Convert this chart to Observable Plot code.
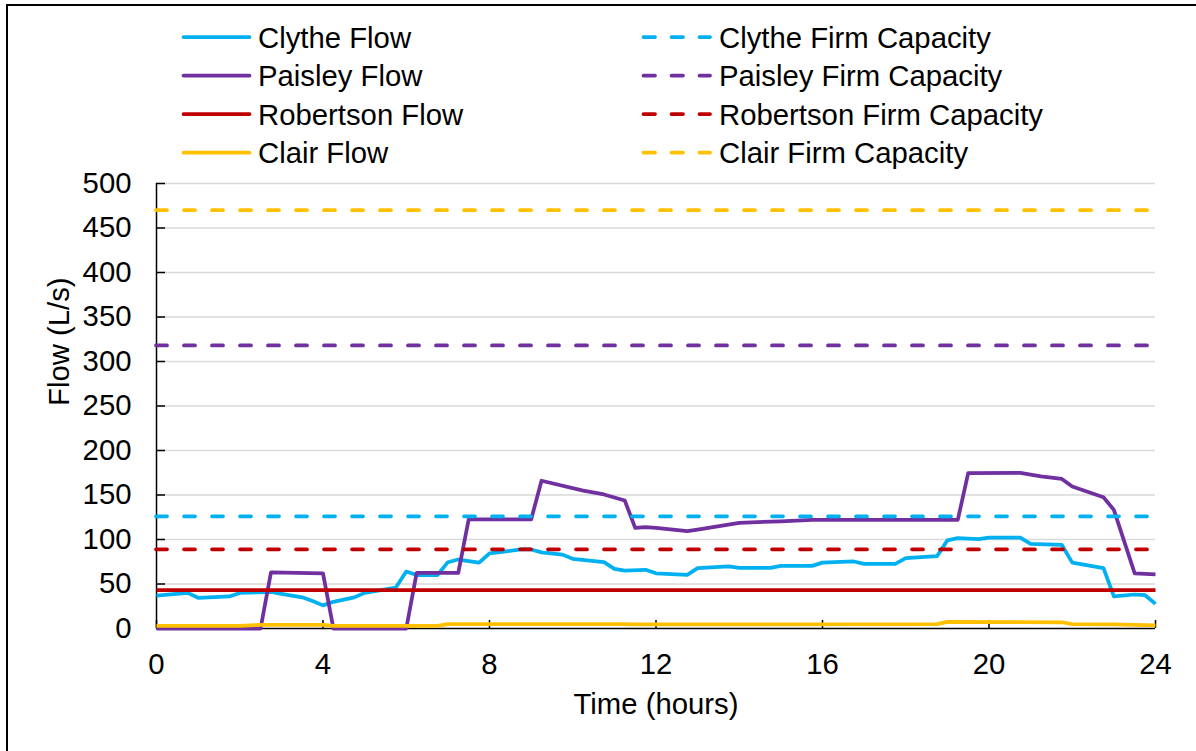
<!DOCTYPE html>
<html>
<head>
<meta charset="utf-8">
<script src="https://cdn.jsdelivr.net/npm/d3@7"></script>
<script src="https://cdn.jsdelivr.net/npm/@observablehq/plot@0.6"></script>
<style>
html, body { margin: 0; padding: 0; background: #fff; overflow: hidden; }
#wrap { position: relative; width: 1196px; height: 751px; overflow: hidden; font-family: "Liberation Sans", Arial, sans-serif; background: #fff; }
#chart, #legend { position: absolute; left: 0; top: 0; }
#frame { position: absolute; left: 6px; top: 4px; width: 1400px; height: 1000px; border-left: 2px solid #000; border-top: 2px solid #000; pointer-events: none; }
</style>
</head>
<body>
<div id="wrap">
  <div id="chart"></div>
  <svg id="legend" width="1196" height="180"></svg>
  <div id="frame"></div>
</div>
<script>
// ---------- data ----------
const seriesNames = ["Clythe", "Paisley", "Robertson", "Clair"];
const seriesColors = ["#00B0F0", "#7030A0", "#C00000", "#FFC000"];
const firmCapacity = [126, 318, 89, 470];

const clytheTime = [0, 0.75, 1, 1.75, 2, 2.75, 3, 3.5, 3.75, 4, 4.25, 4.75, 5, 5.75, 6, 6.25, 6.75, 7, 7.25, 7.75, 8, 8.25, 8.75, 9, 9.25, 9.75, 10, 10.75, 11, 11.25, 11.75, 12, 12.75, 13, 13.75, 14, 14.75, 15, 15.75, 16, 16.75, 17, 17.75, 18, 18.75, 19, 19.25, 19.75, 20, 20.75, 21, 21.75, 22, 22.75, 23, 23.5, 23.75, 24];
const clytheFlow = [37, 40, 34.5, 36, 40, 41, 39, 35, 31, 26, 30, 35, 40, 46, 64, 60, 60, 74.5, 77.5, 74, 84.5, 85.7, 88.8, 88.8, 85.5, 83, 78.3, 74.5, 67, 65, 66, 62, 60.3, 67.8, 69.7, 68.2, 68.2, 70.4, 70.4, 74, 75.3, 72.7, 72.7, 79, 81.2, 99, 101.5, 100.4, 102.2, 102.2, 95, 94, 74, 67.8, 36, 38.2, 37.4, 27.7];

const paisleyTime = [0, 2.5, 2.75, 4, 4.25, 6, 6.25, 7.25, 7.5, 9, 9.25, 10.25, 10.75, 11.25, 11.5, 11.75, 12, 12.75, 13, 14, 15, 15.75, 19.25, 19.5, 20.75, 21.25, 21.75, 22, 22.75, 23, 23.5, 24];
const paisleyFlow = [0, 0, 63, 62, 0, 0, 62.6, 62.6, 122.5, 122.5, 166, 155, 150.6, 143.8, 113, 113.8, 113, 109.3, 111, 118.7, 120.5, 122, 122, 174.5, 174.9, 171, 168, 159.5, 147.5, 133.3, 62, 60.7];

const robertsonTime = [0, 24];
const robertsonFlow = [43, 43];

const clairTime = [0, 2, 2.5, 4, 4.25, 6.75, 7, 11.25, 11.5, 18.75, 19, 21.75, 22, 23, 24];
const clairFlow = [3, 3, 4, 4, 3, 3, 5, 5, 4.5, 5, 7.5, 7, 5, 4.5, 3.5];

const xTicks = [0, 4, 8, 12, 16, 20, 24];
const yTicks = [0, 50, 100, 150, 200, 250, 300, 350, 400, 450, 500];
const xLabel = "Time (hours)";
const yLabel = "Flow (L/s)";

// ---------- build rows ----------
const toRows = (ts, vs, name) => ts.map((t, i) => ({time: t, flow: vs[i], name}));
const flowSeries = [
  toRows(clytheTime, clytheFlow, "Clythe"),
  toRows(paisleyTime, paisleyFlow, "Paisley"),
  toRows(robertsonTime, robertsonFlow, "Robertson"),
  toRows(clairTime, clairFlow, "Clair")
];

const FONT = "'Liberation Sans', Arial, sans-serif";
const FS = 29.3;
const LW = 3.75;
const DASH = "11,17";

const marks = [
  Plot.gridY(yTicks.filter(d => d > 0), {stroke: "#d9d9d9", strokeOpacity: 1, strokeWidth: 1.5}),
  Plot.ruleY([0], {stroke: "#000", strokeWidth: 1.5}),
  Plot.ruleX([0], {stroke: "#000", strokeWidth: 1.5}),
  Plot.axisY(yTicks, {tickSize: -9, tickFormat: () => "", label: null, strokeWidth: 1.5}),
  Plot.axisY(yTicks, {tickSize: 0, tickPadding: 25, label: null, fontSize: FS, fill: "#000"}),
  Plot.axisX(xTicks, {tickSize: -8, tickFormat: () => "", label: null, strokeWidth: 1.5}),
  Plot.axisX(xTicks, {tickSize: 0, tickPadding: 25, label: null, fontSize: FS, fill: "#000"})
];
flowSeries.forEach((rows, i) => {
  marks.push(Plot.line(rows, {x: "time", y: "flow", stroke: seriesColors[i], strokeWidth: LW, strokeLinejoin: "round", strokeLinecap: "butt"}));
});
firmCapacity.forEach((c, i) => {
  marks.push(Plot.ruleY([c], {stroke: seriesColors[i], strokeWidth: LW, strokeDasharray: DASH, strokeLinecap: "round"}));
});
marks.push(Plot.text([xLabel], {text: d => d, frameAnchor: "bottom", lineAnchor: "top", dy: 65, fontSize: FS, fill: "#000"}));
marks.push(Plot.text([yLabel], {text: d => d, frameAnchor: "left", lineAnchor: "bottom", rotate: -90, dx: -88, fontSize: FS, fill: "#000"}));

const chart = Plot.plot({
  width: 1196,
  height: 751,
  marginLeft: 156,
  marginRight: 41,
  marginTop: 183,
  marginBottom: 123,
  style: {fontFamily: FONT, fontSize: FS + "px", color: "#000", background: "none", overflow: "visible"},
  x: {domain: [0, 24]},
  y: {domain: [0, 500]},
  marks
});
document.getElementById("chart").appendChild(chart);

// ---------- legend ----------
const legend = d3.select("#legend");
const rowY = i => 37 + i * 38.5;
seriesNames.forEach((name, i) => {
  const y = rowY(i);
  // solid (flow)
  legend.append("line").attr("x1", 183.5).attr("x2", 249.5).attr("y1", y).attr("y2", y)
    .attr("stroke", seriesColors[i]).attr("stroke-width", LW).attr("stroke-linecap", "round");
  legend.append("text").attr("x", 258).attr("y", y + 10.5).text(name + " Flow")
    .attr("font-family", FONT).attr("font-size", FS).attr("fill", "#000");
  // dashed (firm capacity)
  legend.append("line").attr("x1", 643.5).attr("x2", 710).attr("y1", y).attr("y2", y)
    .attr("stroke", seriesColors[i]).attr("stroke-width", LW).attr("stroke-linecap", "round")
    .attr("stroke-dasharray", "11.5,16.5");
  legend.append("text").attr("x", 719).attr("y", y + 10.5).text(name + " Firm Capacity")
    .attr("font-family", FONT).attr("font-size", FS).attr("fill", "#000");
});
</script>
</body>
</html>
